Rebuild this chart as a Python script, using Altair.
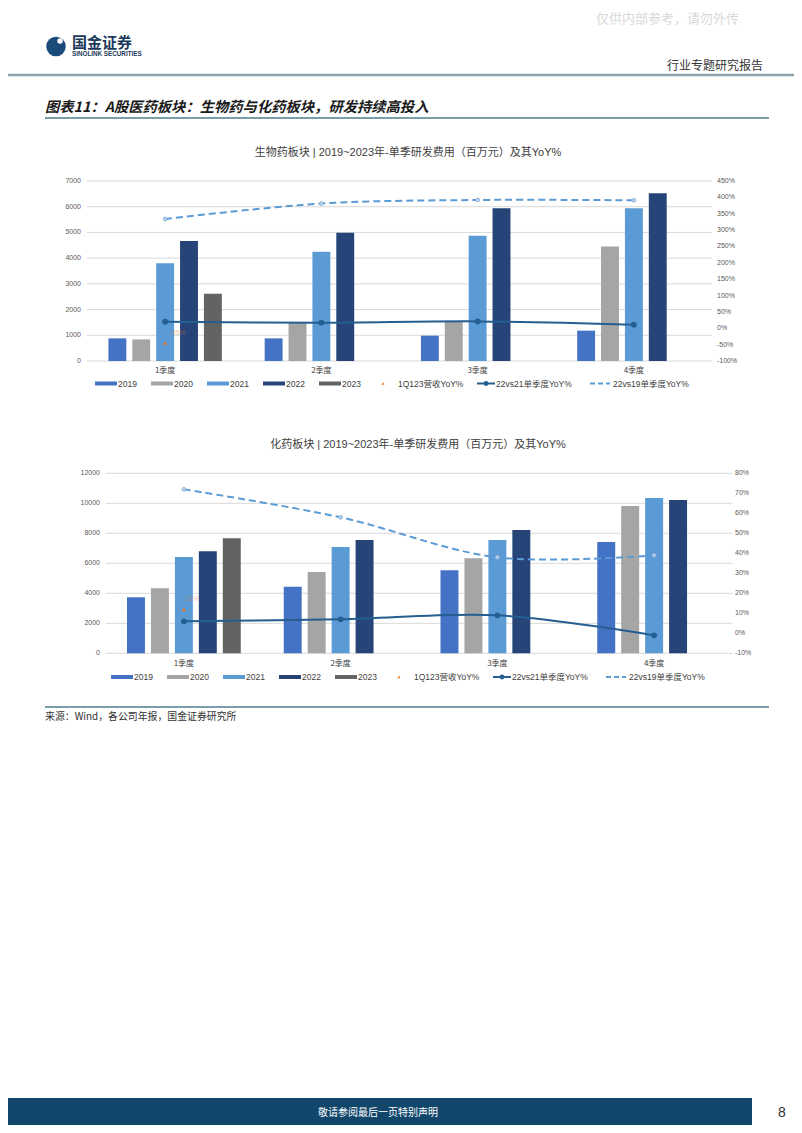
import altair as alt
import pandas as pd

# ---------------- data ----------------
quarters = ["1季度", "2季度", "3季度", "4季度"]
years = ["2019", "2020", "2021", "2022", "2023"]

# 生物药板块 (百万元)
bio_2019 = [880, 880, 985, 1180]
bio_2020 = [840, 1490, 1555, 4450]
bio_2021 = [3800, 4250, 4875, 5940]
bio_2022 = [4670, 4990, 5940, 6525]
bio_2023 = [2620, None, None, None]
bio_yoy_22vs21 = [20, 17, 21, 11]
bio_yoy_22vs19 = [334, 381, 392, 391]
bio_rev_1q123 = [-45]
bio_rev_label = ["-45%"]
bio_left_ticks = [0, 1000, 2000, 3000, 4000, 5000, 6000, 7000]
bio_right_ticks = [-100, -50, 0, 50, 100, 150, 200, 250, 300, 350, 400, 450]

# 化药板块 (百万元)
chem_2019 = [3730, 4440, 5530, 7420]
chem_2020 = [4330, 5420, 6330, 9820]
chem_2021 = [6420, 7090, 7560, 10360]
chem_2022 = [6800, 7560, 8220, 10220]
chem_2023 = [7670, None, None, None]
chem_yoy_22vs21 = [6, 7, 9, -1]
chem_yoy_22vs19 = [72, 58, 38, 39]
chem_rev_1q123 = [12]
chem_rev_label = ["12%"]
chem_left_ticks = [0, 2000, 4000, 6000, 8000, 10000, 12000]
chem_right_ticks = [-10, 0, 10, 20, 30, 40, 50, 60, 70, 80]

line_names = ["1Q123营收YoY%", "22vs21单季度YoY%", "22vs19单季度YoY%"]

# ---------------- styles ----------------
year_colors = ["#4472C4", "#A5A5A5", "#5B9BD5", "#264478", "#636363"]
C_SOLID = "#255E91"
C_DASH = "#5B9BD5"
C_ORANGE = "#ED7D31"
LATIN = "Arial, 'Liberation Sans', 'Noto Sans CJK SC', sans-serif"
CJK = "'Noto Sans CJK SC', sans-serif"

ONE = pd.DataFrame({"a": [0]})


def txt(s, x, y, size, color="#333333", align="left", weight="normal",
        style="normal", font=CJK, opacity=1.0):
    return alt.Chart(ONE).mark_text(
        text=s, align=align, baseline="middle", fontSize=size, color=color,
        fontWeight=weight, fontStyle=style, font=font, opacity=opacity
    ).encode(x=alt.value(x), y=alt.value(y))


def hrule(x1, x2, y, color, w, dash=None):
    kw = dict(color=color, strokeWidth=w)
    if dash:
        kw["strokeDash"] = dash
    return alt.Chart(ONE).mark_rule(**kw).encode(
        x=alt.value(x1), x2=alt.value(x2), y=alt.value(y))


def box(x1, x2, y1, y2, color):
    return alt.Chart(ONE).mark_rect(color=color).encode(
        x=alt.value(x1), x2=alt.value(x2), y=alt.value(y1), y2=alt.value(y2))


def dot(x, y, size, shape, fill, stroke=None, sw=0):
    kw = dict(shape=shape, size=size, filled=True, fill=fill, opacity=1)
    if stroke:
        kw.update(stroke=stroke, strokeWidth=sw)
    return alt.Chart(ONE).mark_point(**kw).encode(x=alt.value(x), y=alt.value(y))


def panel(series, yoy21, yoy19, rev, rev_lab, lticks, rticks, g, title):
    x0, x1, yt, yb = g["x0"], g["x1"], g["yt"], g["yb"]
    xs = alt.Scale(type="band", domain=quarters, range=[x0, x1],
                   paddingInner=0.236, paddingOuter=0.118)
    ysL = alt.Scale(domain=[lticks[0], lticks[-1]], range=[yb, yt], nice=False, zero=False)
    ysR = alt.Scale(domain=[rticks[0], rticks[-1]], range=[yb, yt], nice=False, zero=False)

    rows = [{"quarter": q, "year": y, "value": v}
            for y, vals in zip(years, series)
            for q, v in zip(quarters, vals) if v is not None]
    bars_df = pd.DataFrame(rows)
    line_df = pd.DataFrame({"quarter": quarters, "a": yoy21, "b": yoy19})
    rev_df = pd.DataFrame({"quarter": quarters[:1], "r": rev, "lab": rev_lab})
    lt_df = pd.DataFrame({"v": lticks})
    rt_df = pd.DataFrame({"v": rticks})
    q_df = pd.DataFrame({"quarter": quarters})

    X = lambda: alt.X("quarter:N", scale=xs, axis=None, bandPosition=0.5)
    layers = []
    # title
    layers.append(txt(title, g["tx"], g["ty"], 11, color="#404040", align="center", font=LATIN))
    # grid
    layers.append(alt.Chart(lt_df).mark_rule(color="#D9D9D9", strokeWidth=1).encode(
        y=alt.Y("v:Q", scale=ysL, axis=None), x=alt.value(x0), x2=alt.value(x1)))
    # left tick labels
    layers.append(alt.Chart(lt_df).mark_text(
        align="right", baseline="middle", fontSize=7, color="#595959", font=LATIN).encode(
        y=alt.Y("v:Q", scale=ysL, axis=None), x=alt.value(g["lx"]),
        text=alt.Text("v:Q", format="d")))
    # right tick labels
    layers.append(alt.Chart(rt_df).transform_calculate(lab="datum.v + '%'").mark_text(
        align="left", baseline="middle", fontSize=7, color="#595959", font=LATIN).encode(
        y=alt.Y("v:Q", scale=ysR, axis=None), x=alt.value(g["rx"]), text="lab:N"))
    # category labels
    layers.append(alt.Chart(q_df).mark_text(
        align="center", baseline="middle", fontSize=8, color="#404040", font=CJK).encode(
        x=X(), y=alt.value(g["cy"]), text="quarter:N"))
    # bars
    layers.append(alt.Chart(bars_df).mark_bar().encode(
        x=alt.X("quarter:N", scale=xs, axis=None),
        xOffset=alt.XOffset("year:N", scale=alt.Scale(domain=years, paddingInner=0.25,
                                                      paddingOuter=0.125)),
        y=alt.Y("value:Q", scale=ysL, axis=None),
        color=alt.Color("year:N", scale=alt.Scale(domain=years, range=year_colors), legend=None),
    ))
    # 22vs19 dashed
    layers.append(alt.Chart(line_df).mark_line(
        color=C_DASH, strokeWidth=2, strokeDash=[7, 4], interpolate="catmull-rom").encode(
        x=X(), y=alt.Y("b:Q", scale=ysR, axis=None)))
    layers.append(alt.Chart(line_df).mark_point(
        filled=True, size=14, fill="#BDD3EC", stroke="#8EB4DE", strokeWidth=1, opacity=1).encode(
        x=X(), y=alt.Y("b:Q", scale=ysR, axis=None)))
    # 22vs21 solid
    layers.append(alt.Chart(line_df).mark_line(
        color=C_SOLID, strokeWidth=2, interpolate="catmull-rom").encode(
        x=X(), y=alt.Y("a:Q", scale=ysR, axis=None)))
    layers.append(alt.Chart(line_df).mark_circle(size=34, color=C_SOLID, opacity=1).encode(
        x=X(), y=alt.Y("a:Q", scale=ysR, axis=None)))
    # 1Q123 revenue
    layers.append(alt.Chart(rev_df).mark_point(
        shape="triangle-up", size=18, filled=True, color=C_ORANGE, opacity=1).encode(
        x=X(), y=alt.Y("r:Q", scale=ysR, axis=None)))
    layers.append(alt.Chart(rev_df).mark_text(
        align="left", baseline="middle", dx=g["ldx"], dy=-10, fontSize=7,
        color=C_ORANGE, opacity=0.45, font=LATIN).encode(
        x=X(), y=alt.Y("r:Q", scale=ysR, axis=None), text="lab:N"))

    # legend
    lx, ly = g["legx"], g["legy"]
    for i, yname in enumerate(years):
        bx = lx + 56 * i
        layers.append(box(bx, bx + 22, ly - 2, ly + 2, year_colors[i]))
        layers.append(txt(yname, bx + 23, ly, 8.5, color="#404040", font=LATIN))
    layers.append(dot(lx + 288, ly, 10, "triangle-up", C_ORANGE))
    layers.append(txt(line_names[0], lx + 303, ly, 8.5, color="#404040", font=LATIN))
    layers.append(hrule(lx + 382, lx + 400, ly, C_SOLID, 2))
    layers.append(dot(lx + 391, ly, 24, "circle", C_SOLID))
    layers.append(txt(line_names[1], lx + 401, ly, 8.5, color="#404040", font=LATIN))
    layers.append(hrule(lx + 495, lx + 515, ly, C_DASH, 2, dash=[5, 3]))
    layers.append(txt(line_names[2], lx + 518, ly, 8.5, color="#404040", font=LATIN))
    return layers


layers = []
# ---------------- page header ----------------
layers.append(txt("仅供内部参考，请勿外传", 588, 11, 13, color="#D9D9D9"))
layers.append(dot(48, 38.5, 380, "circle", "#1B4B78"))
layers.append(dot(52, 33, 30, "circle", "#FFFFFF"))
layers.append(txt("国金证券", 64, 35, 15, color="#1B3A5C", weight="bold"))
layers.append(txt("SINOLINK SECURITIES", 64, 46, 6.3, color="#1B3A5C", weight="bold", font=LATIN))
layers.append(txt("行业专题研究报告", 659, 58, 12, color="#333333"))
layers.append(hrule(0, 786, 67, "#8FA3AD", 2.5))
layers.append(txt("图表11：A股医药板块：生物药与化药板块，研发持续高投入", 37, 100, 14.3,
                  color="#1A1A1A", weight="bold", style="italic"))
layers.append(hrule(37, 761, 110, "#4E7E8C", 1.5))

# ---------------- charts ----------------
g1 = dict(x0=79, x1=704, yt=173, yb=353, lx=73, rx=709, cy=363, tx=400, ty=145,
          legx=87, legy=375.5, ldx=4)
layers += panel([bio_2019, bio_2020, bio_2021, bio_2022, bio_2023],
                bio_yoy_22vs21, bio_yoy_22vs19, bio_rev_1q123, bio_rev_label,
                bio_left_ticks, bio_right_ticks, g1,
                "生物药板块 | 2019~2023年-单季研发费用（百万元）及其YoY%")

g2 = dict(x0=97.5, x1=724.5, yt=465.3, yb=645.3, lx=92, rx=727, cy=656, tx=410, ty=437,
          legx=103, legy=669, ldx=1)
layers += panel([chem_2019, chem_2020, chem_2021, chem_2022, chem_2023],
                chem_yoy_22vs21, chem_yoy_22vs19, chem_rev_1q123, chem_rev_label,
                chem_left_ticks, chem_right_ticks, g2,
                "化药板块 | 2019~2023年-单季研发费用（百万元）及其YoY%")

# ---------------- page footer ----------------
layers.append(hrule(37, 761, 699, "#4E7E8C", 1.5))
layers.append(txt("来源：Wind，各公司年报，国金证券研究所", 37, 709, 9.9, color="#333333"))
layers.append(box(0, 744, 1090, 1117, "#12466B"))
layers.append(txt("敬请参阅最后一页特别声明", 370, 1105, 10, color="#FFFFFF", align="center"))
layers.append(txt("8", 774, 1105, 14, color="#333333", align="center", font=LATIN))

chart = alt.layer(*layers).resolve_scale(
    x="independent", y="independent", xOffset="independent", color="independent"
).properties(
    width=786, height=1117, padding=0,
    autosize=alt.AutoSizeParams(type="none"), background="white"
).configure_view(strokeWidth=0)

chart.save("out.html", embed_options={"renderer": "svg", "actions": False})
